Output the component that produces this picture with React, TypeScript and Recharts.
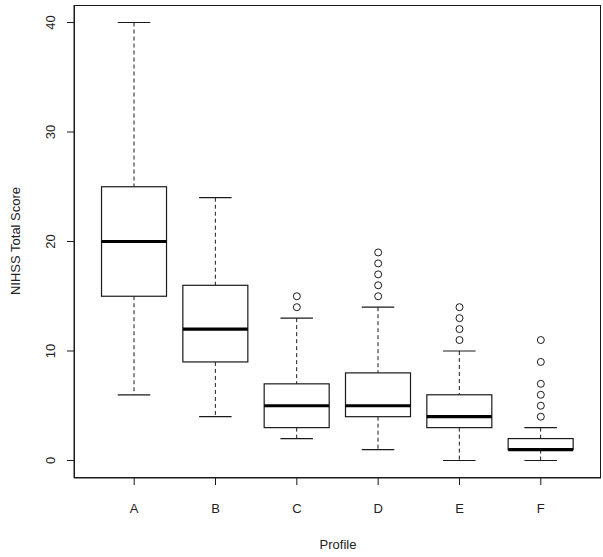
import React from 'react';
import { ComposedChart, Bar, Line, XAxis, YAxis } from 'recharts';

const profiles = ['A', 'B', 'C', 'D', 'E', 'F'];
const whiskerLow = [6, 4, 2, 1, 0, 0];
const q1 = [15, 9, 3, 4, 3, 1];
const medians = [20, 12, 5, 5, 4, 1];
const q3 = [25, 16, 7, 8, 6, 2];
const whiskerHigh = [40, 24, 13, 14, 10, 3];
const outliers: number[][] = [[], [], [14, 15], [15, 16, 17, 18, 19], [11, 12, 13, 14], [4, 5, 6, 7, 9, 11]];
const yTicks = [0, 10, 20, 30, 40];
const xTicks = profiles.map((_, i) => i + 1);

const X_DOMAIN: [number, number] = [0.26, 6.74];
const Y_DOMAIN: [number, number] = [-1.6, 41.6];

const MAX_OUT = 6;
const data = profiles.map((name, i) => {
  const row: any = {
    name,
    pos: i + 1,
    range: [whiskerLow[i], whiskerHigh[i]],
    lo: whiskerLow[i],
    q1: q1[i],
    med: medians[i],
    q3: q3[i],
    hi: whiskerHigh[i],
  };
  for (let k = 0; k < MAX_OUT; k++) row['o' + k] = outliers[i][k] ?? null;
  return row;
});

const FONT = '"Liberation Sans", Arial, sans-serif';
const INK = '#1a1a1a';

const CHART_W = 603;
const CHART_H = 557;
const MARGIN = { top: 5, right: 2, bottom: 0, left: 0 };
const Y_AXIS_W = 74;
const X_AXIS_H = 79;

const BoxShape = (props: any) => {
  const { x, width, y, height, payload } = props;
  const top = height < 0 ? y + height : y;
  const h = Math.abs(height);
  const lo = payload.lo;
  const hi = payload.hi;
  const ppu = h / (hi - lo);
  const toY = (v: number) => top + (hi - v) * ppu;
  const cx = x + width / 2;
  const capHalf = width / 4;
  return (
    <g>
      <line x1={cx} x2={cx} y1={toY(hi)} y2={toY(payload.q3)} stroke={INK} strokeWidth={1} strokeDasharray="4 3" />
      <line x1={cx} x2={cx} y1={toY(payload.q1)} y2={toY(lo)} stroke={INK} strokeWidth={1} strokeDasharray="4 3" />
      <line x1={cx - capHalf} x2={cx + capHalf} y1={toY(hi)} y2={toY(hi)} stroke={INK} strokeWidth={1.2} />
      <line x1={cx - capHalf} x2={cx + capHalf} y1={toY(lo)} y2={toY(lo)} stroke={INK} strokeWidth={1.2} />
      <rect x={x} y={toY(payload.q3)} width={width} height={toY(payload.q1) - toY(payload.q3)} fill="#fff" stroke={INK} strokeWidth={1.2} />
      <line x1={x} x2={x + width} y1={toY(payload.med)} y2={toY(payload.med)} stroke="#000" strokeWidth={3.2} />
    </g>
  );
};

const YTick = (props: any) => {
  const { y, payload } = props;
  const tx = 55;
  return (
    <text x={tx} y={y} transform={`rotate(-90, ${tx}, ${y})`} textAnchor="middle" fontFamily={FONT} fontSize={13} fill="#222">
      {payload.value}
    </text>
  );
};

const XTick = (props: any) => {
  const { x, payload } = props;
  return (
    <text x={x} y={513} textAnchor="middle" fontFamily={FONT} fontSize={13} fill="#222">
      {profiles[payload.value - 1]}
    </text>
  );
};

export default function App() {
  const plotLeft = MARGIN.left + Y_AXIS_W;
  const plotTop = MARGIN.top;
  const plotW = CHART_W - MARGIN.left - MARGIN.right - Y_AXIS_W;
  const plotH = CHART_H - MARGIN.top - MARGIN.bottom - X_AXIS_H;
  return (
    <div style={{ position: 'absolute', left: 0, top: 0, width: CHART_W, height: CHART_H, background: '#fff' }}>
      <ComposedChart width={CHART_W} height={CHART_H} data={data} margin={MARGIN}>
        <XAxis
          dataKey="pos"
          type="number"
          domain={X_DOMAIN}
          ticks={xTicks}
          allowDataOverflow
          height={X_AXIS_H}
          tickSize={7}
          stroke={INK}
          tick={<XTick />}
          label={(p: any) => (
            <text x={338} y={549} textAnchor="middle" fontFamily={FONT} fontSize={13} fill="#222">
              Profile
            </text>
          )}
        />
        <YAxis
          type="number"
          domain={Y_DOMAIN}
          ticks={yTicks}
          allowDataOverflow
          width={Y_AXIS_W}
          tickSize={7}
          stroke={INK}
          tick={<YTick />}
          label={(p: any) => (
            <text x={20} y={241} transform="rotate(-90, 20, 241)" textAnchor="middle" fontFamily={FONT} fontSize={13} fill="#222">
              NIHSS Total Score
            </text>
          )}
        />
        <Bar dataKey="range" barSize={65} shape={<BoxShape />} isAnimationActive={false} />
        {Array.from({ length: MAX_OUT }).map((_, k) => (
          <Line
            key={k}
            dataKey={'o' + k}
            stroke="none"
            dot={{ r: 3.5, stroke: INK, strokeWidth: 1, fill: '#fff' }}
            activeDot={false}
            isAnimationActive={false}
            connectNulls={false}
          />
        ))}
      </ComposedChart>
      <div
        style={{
          position: 'absolute',
          left: plotLeft - 0.5,
          top: plotTop - 0.5,
          width: plotW,
          height: plotH,
          border: `1px solid ${INK}`,
          pointerEvents: 'none',
          boxSizing: 'border-box',
        }}
      />
    </div>
  );
}
